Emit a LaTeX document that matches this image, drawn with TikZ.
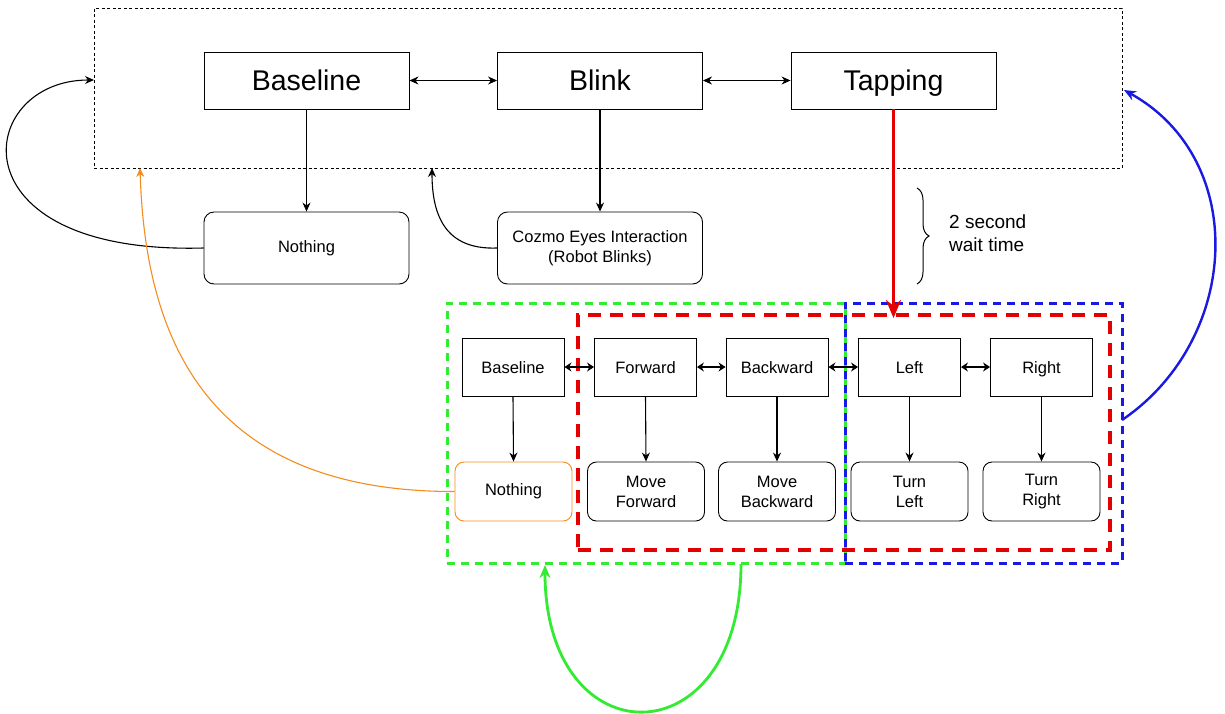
\documentclass[tikz,border=0pt]{standalone}
\usepackage{fontspec}
\setmainfont{Liberation Sans}
\usetikzlibrary{arrows.meta,decorations.pathreplacing}
\definecolor{gline}{RGB}{50,235,50}
\definecolor{rline}{RGB}{228,0,0}
\definecolor{bline}{RGB}{25,25,225}
\definecolor{oline}{RGB}{245,140,30}
\begin{document}
\begin{tikzpicture}[x=1pt,y=-1pt,
  bigbox/.style={draw,line width=0.9pt,minimum width=205pt,minimum height=57pt,inner sep=0pt,text height=23.5pt,text depth=3.5pt,font=\fontsize{28.5}{30}\selectfont},
  resbox/.style={draw,line width=0.9pt,rounded corners=10pt,minimum width=205pt,minimum height=72pt,inner sep=0pt,align=center,font=\fontsize{16.5}{20}\selectfont},
  smallbox/.style={draw,line width=0.9pt,minimum width=102pt,minimum height=58pt,inner sep=0pt,text height=14pt,text depth=2pt,font=\fontsize{16.5}{20}\selectfont},
  actbox/.style={draw,line width=0.9pt,rounded corners=9pt,minimum width=117pt,minimum height=59pt,inner sep=0pt,align=center,font=\fontsize{16.5}{20}\selectfont},
  groupbox/.style={inner sep=0pt},
  arr/.style={-{Stealth[length=9pt,width=8pt]},line width=1.1pt},
  darr/.style={{Stealth[length=9pt,width=8pt]}-{Stealth[length=9pt,width=8pt]},line width=1.1pt},
  sdarr/.style={{Stealth[length=7pt,width=9pt]}-{Stealth[length=7pt,width=9pt]},line width=1.4pt},
  lbl/.style={inner sep=0pt,align=left,font=\fontsize{19}{23}\selectfont}
]
\useasboundingbox (0,0) rectangle (1225,713);

% group frames
\node[groupbox,draw,line width=0.9pt,dash pattern=on 3pt off 2.5pt,minimum width=1028pt,minimum height=160pt] (top) at (608,88) {};
\node[groupbox,draw=gline,line width=3pt,dash pattern=on 8pt off 6pt,minimum width=398pt,minimum height=260pt] (green) at (646,433) {};
\node[groupbox,draw=bline,line width=3pt,dash pattern=on 8pt off 6pt,minimum width=277pt,minimum height=260pt] (blue) at (983.5,433) {};
\node[groupbox,draw=rline,line width=4pt,dash pattern=on 13pt off 9pt,minimum width=532pt,minimum height=235pt] (red) at (844,432.5) {};

% top row
\node[bigbox] (tbase) at (306.5,80.5) {Baseline};
\node[bigbox] (tblink) at (600,80.5) {Blink};
\node[bigbox] (ttap) at (893.5,80.5) {Tapping};
\node[resbox] (tnoth) at (306.5,248) {Nothing};
\node[resbox] (tcozmo) at (600,248) {Cozmo Eyes Interaction\\(Robot Blinks)};

\draw[darr] (tbase.east) -- (tblink.west);
\draw[darr] (tblink.east) -- (ttap.west);
\draw[arr] (tbase.south) -- (tnoth.north);
\draw[arr] (tblink.south) -- (tcozmo.north);

% lower rows
\node[smallbox] (lbase) at (513,367) {Baseline};
\node[smallbox] (lfwd) at (645.5,367) {Forward};
\node[smallbox] (lbwd) at (777,367) {Backward};
\node[smallbox] (lleft) at (909.5,367) {Left};
\node[smallbox] (lright) at (1041.5,367) {Right};

\node[actbox,draw=oline] (anoth) at (513.5,491.5) {Nothing};
\node[actbox] (afwd) at (646,491.5) {Move\\Forward};
\node[actbox] (abwd) at (777,491.5) {Move\\Backward};
\node[actbox] (aleft) at (909.5,491.5) {Turn\\Left};
\node[actbox] (aright) at (1041.5,491.5) {Turn\\Right};

\draw[sdarr] (lbase.east) -- (lfwd.west);
\draw[sdarr] (lfwd.east) -- (lbwd.west);
\draw[sdarr] (lbwd.east) -- (lleft.west);
\draw[sdarr] (lleft.east) -- (lright.west);
\foreach \a/\b in {lbase/anoth,lfwd/afwd,lbwd/abwd,lleft/aleft,lright/aright}
  \draw[arr] (\a.south) -- (\b.north);

% red tapping arrow
\coordinate (redtop) at (893.5,318);
\draw[rline,line width=3pt,-{Stealth[length=18pt,width=15pt]}] (ttap.south) -- (redtop);

% brace and label
\coordinate (brT) at (917,188);
\coordinate (brB) at (917,284);
\draw[line width=1pt,decorate,decoration={brace,amplitude=12pt,mirror}] (brB) -- (brT);
\node[lbl,anchor=west] (wait) at (949,233.5) {2 second\\wait time};

% feedback curves
\coordinate (topL) at (94,80);
\draw[arr] (tnoth.west) .. controls (-50,255) and (-25,80) .. (topL);
\coordinate (topB1) at (432,168);
\draw[arr] (tcozmo.west) .. controls (445,250) and (432,215) .. (topB1);
\coordinate (topB2) at (140,168);
\draw[oline,line width=1.1pt,-{Stealth[length=9pt,width=8pt]}] (anoth.west) .. controls (200,492) and (145,330) .. (topB2);
\coordinate (blueS) at (1122,420);
\coordinate (topR) at (1124,90);
\draw[bline,line width=2.4pt,-{Stealth[length=12pt,width=10pt]}] (blueS) .. controls (1240,340) and (1250,160) .. (topR);
\coordinate (gS) at (741,564);
\coordinate (gE) at (545,565);
\draw[gline,line width=2.8pt,-{Stealth[length=13pt,width=11pt]}] (gS) .. controls (741,760) and (545,760) .. (gE);
\end{tikzpicture}
\end{document}
